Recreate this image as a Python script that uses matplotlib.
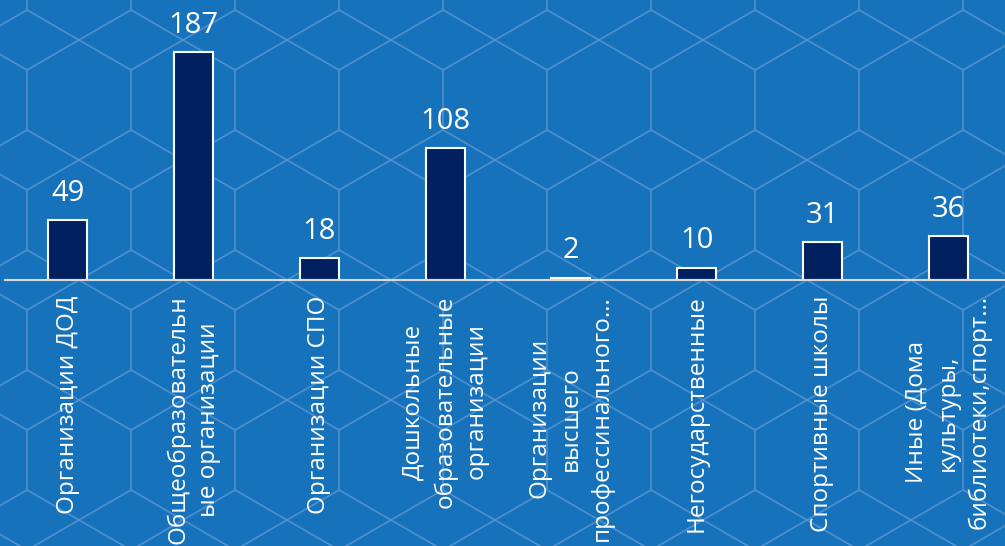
import matplotlib
matplotlib.use("Agg")
import matplotlib.pyplot as plt
from matplotlib.collections import LineCollection
import numpy as np

plt.rcParams['font.family'] = ['Open Sans', 'DejaVu Sans']

# данные с диаграммы
categories = ["Организации ДОД",
              "Общеобразовательн\nые организации",
              "Организации СПО",
              "Дошкольные\nобразовательные\nорганизации",
              "Организации\nвысшего\nпрофессинального…",
              "Негосударственные",
              "Спортивные школы",
              "Иные (Дома\nкультуры,\nбиблиотеки,спорт…"]
values = [49, 187, 18, 108, 2, 10, 31, 36]

bg_color = "#1672bb"
hex_color = "#5c98d4"
bar_color = "#002060"

fig = plt.figure(figsize=(10.05, 5.46), dpi=100)
fig.patch.set_facecolor(bg_color)

# фон с шестиугольниками (в пикселях)
bgax = fig.add_axes([0, 0, 1, 1])
bgax.set_xlim(0, 1005)
bgax.set_ylim(546, 0)
bgax.axis('off')
w, s = 104, 60
segs = []
for xk in np.arange(27 - 2 * w, 1005 + w, w):
    for t in np.arange(-50 - 4 * s, 546 + 2 * s, 2 * s):
        segs.append([(xk, t), (xk, t + s)])
        segs.append([(xk, t + s), (xk + w, t + 2 * s)])
        segs.append([(xk, t + 2 * s), (xk + w, t + s)])
bgax.add_collection(LineCollection(segs, colors=hex_color, linewidths=1.3, alpha=0.75))

# основной график
ax = fig.add_axes([5 / 1005, 266 / 546, 1006 / 1005, 280 / 546])
ax.patch.set_alpha(0)
x = np.arange(len(values))
ax.bar(x, values, width=0.31, color=bar_color, edgecolor='white', linewidth=1.5)
ax.set_xlim(-0.5, 7.5)
ax.set_ylim(0, 280 / 1.2193)

for xi, v in zip(x, values):
    ax.annotate(str(v), (xi, v), xytext=(0, 14), textcoords='offset points',
                ha='center', va='baseline', color='white', fontsize=21)

ax.set_xticks(x)
ax.set_xticklabels(categories, rotation=90, ha='center', va='top',
                   multialignment='center', color='white', fontsize=17.5,
                   linespacing=1.4)
ax.tick_params(axis='x', length=0, pad=11)
ax.set_yticks([])
for sp in ['top', 'left', 'right']:
    ax.spines[sp].set_visible(False)
ax.spines['bottom'].set_color('#d9d9d9')
ax.spines['bottom'].set_linewidth(1.5)

fig.savefig("out.png", dpi=100, facecolor=bg_color)
